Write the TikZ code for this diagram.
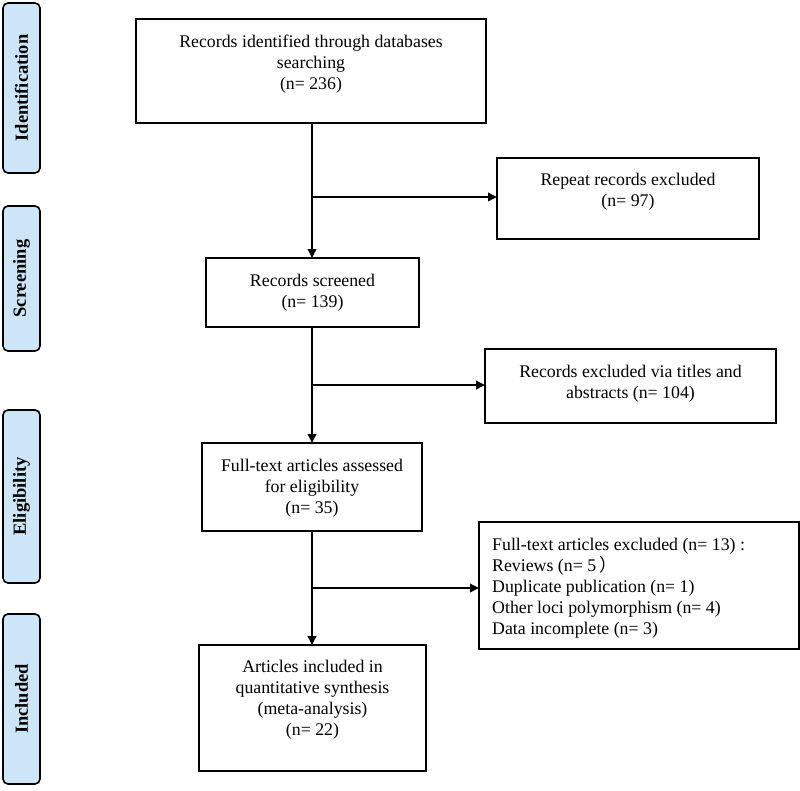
\documentclass[tikz,border=0pt]{standalone}
\usepackage{fontspec}
\setmainfont{Liberation Serif}
\newfontfamily\cjk{Noto Sans CJK SC}
\usetikzlibrary{arrows.meta,calc}
\definecolor{sidefill}{HTML}{CCE6F8}
\begin{document}
\begin{tikzpicture}[x=1pt,y=-1pt,
  box/.style={draw=black,line width=1.8pt,inner sep=0pt},
  txt/.style={align=center,inner sep=0pt,font=\fontsize{17.8}{21}\selectfont},
  side/.style={draw=black,line width=1.6pt,fill=sidefill,rounded corners=5pt},
  sidetext/.style={rotate=90,font=\fontsize{18.5}{20}\selectfont\bfseries},
  flow/.style={line width=1.8pt,-{Triangle[length=9pt,width=8.5pt]}}]
\useasboundingbox (0,0) rectangle (800,790);
% side labels
\draw[side] (3,3) rectangle (40,173);
\node[sidetext] (lid) at (21.5,88) {Identification};
\draw[side] (3,206) rectangle (40,351);
\node[sidetext] (lsc) at (21.5,278.5) {Screening};
\draw[side] (3,410) rectangle (40,583);
\node[sidetext] (lel) at (21.5,496.5) {Eligibility};
\draw[side] (3,614) rectangle (40,784);
\node[sidetext] (lin) at (21.5,699) {Included};
% main boxes
\draw[box] (136,19) rectangle (486,123);
\coordinate (b1n) at (312,19); \coordinate (b1s) at (312,123);
\node[txt] (t1) at (311,64.5) {Records identified through databases\\searching\\(n= 236)};
\draw[box] (206,258) rectangle (419,327);
\coordinate (b2n) at (312,258); \coordinate (b2s) at (312,327);
\node[txt] (t2) at (312.5,293) {Records screened\\(n= 139)};
\draw[box] (202,443) rectangle (422,531);
\coordinate (b3n) at (312,443); \coordinate (b3s) at (312,531);
\node[txt] (t3) at (312,488) {Full-text articles assessed\\for eligibility\\(n= 35)};
\draw[box] (199,645) rectangle (426,771);
\coordinate (b4n) at (312,645);
\node[txt] (t4) at (312.5,699.5) {Articles included in\\quantitative synthesis\\(meta-analysis)\\(n= 22)};
% exclusion boxes
\draw[box] (497,158) rectangle (759,239);
\coordinate (e1w) at (497,197);
\node[txt] (u1) at (628,192) {Repeat records excluded\\(n= 97)};
\draw[box] (485,349) rectangle (776,423);
\coordinate (e2w) at (485,385);
\node[txt] (u2) at (630.5,383.5) {Records excluded via titles and\\abstracts (n= 104)};
\draw[box] (479,522) rectangle (799,649);
\coordinate (e3w) at (479,588);
\node[txt,align=left,anchor=west] (u3) at (492,588) {Full-text articles excluded (n= 13) :\\Reviews (n= 5\,{\cjk ）}\\Duplicate publication (n= 1)\\Other loci polymorphism (n= 4)\\Data incomplete (n= 3)};
% connectors
\coordinate (j1) at (312,197);
\coordinate (j2) at (312,385);
\coordinate (j3) at (312,588);
\draw[flow] (b1s) -- (b2n);
\draw[flow] (b2s) -- (b3n);
\draw[flow] (b3s) -- (b4n);
\draw[flow] (j1) -- (e1w);
\draw[flow] (j2) -- (e2w);
\draw[flow] (j3) -- (e3w);
\end{tikzpicture}
\end{document}
